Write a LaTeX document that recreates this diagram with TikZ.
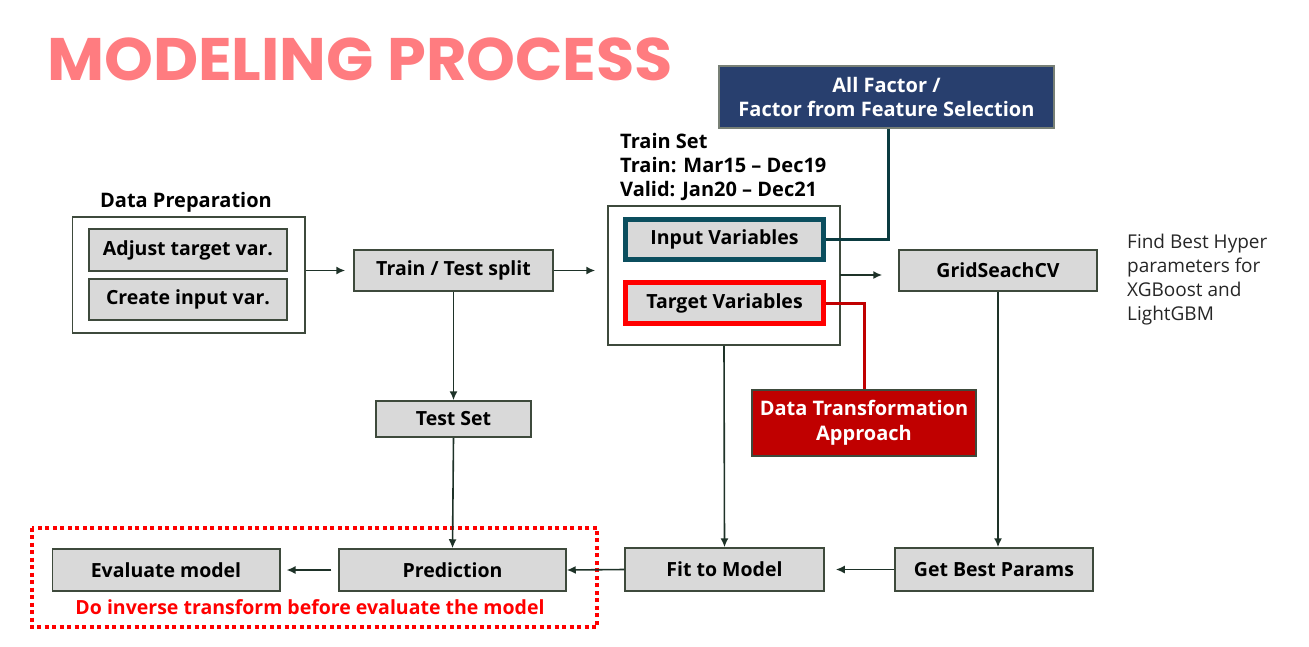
\documentclass[tikz,border=0pt]{standalone}
\usepackage{fontspec}
\setmainfont{Open Sans}
\newfontfamily\titlefont{Poppins}
\usetikzlibrary{arrows.meta,calc}
\definecolor{boxfill}{HTML}{D9D9D9}
\definecolor{boxline}{HTML}{3E4A3C}
\definecolor{arrowc}{HTML}{1E3228}
\definecolor{titlec}{HTML}{FF7C80}
\definecolor{navy}{HTML}{283F6E}
\definecolor{teal}{HTML}{0B4E5E}
\definecolor{tealline}{HTML}{0B3B40}
\definecolor{darkred}{HTML}{C00000}
\tikzset{
  gbox/.style={draw=boxline, line width=1.5pt, fill=boxfill, inner sep=0pt,
    font=\fontsize{19.5}{24}\selectfont\bfseries, text=black, align=center},
  obox/.style={draw=boxline, line width=1.5pt, fill=white, inner sep=0pt},
  lbl/.style={font=\fontsize{20}{24}\selectfont\bfseries, text=black, inner sep=0pt},
  notel/.style={anchor=base west, inner sep=0pt, text=black!85, font=\fontsize{19}{24}\selectfont},
  arr/.style={draw=arrowc, line width=1.6pt, -{Latex[length=9pt,width=8pt]}},
  plain/.style={draw=arrowc, line width=1.5pt}
}
\begin{document}
\begin{tikzpicture}[x=1pt,y=-1pt]
\useasboundingbox (0,0) rectangle (1309,646);
% title
\node[anchor=base west, inner sep=0pt, text=titlec, font=\titlefont\fontsize{60}{60}\selectfont\bfseries] (title) at (47,80) {\scalebox{1.036}[1]{MODELING PROCESS}};

% data preparation
\node[lbl, anchor=base] (dplbl) at (186,207) {Data Preparation};
\node[obox, minimum width=232.5pt, minimum height=116pt] (dpo) at (188.75,275) {};
\node[gbox, minimum width=198pt, minimum height=42pt] (adj) at (188,250) {Adjust target var.};
\node[gbox, minimum width=198pt, minimum height=41pt] (cre) at (188,299.5) {Create input var.};

% train / test split
\node[gbox, minimum width=199pt, minimum height=41pt] (tts) at (453.5,270.5) {Train / Test split};

% train set
\node[lbl, anchor=base west] (ts1) at (620,148) {Train Set};
\node[lbl, anchor=base west] (ts2) at (620,172) {Train: Mar15 -- Dec19};
\node[lbl, anchor=base west] (ts3) at (620,196) {Valid: Jan20 -- Dec21};
\node[obox, minimum width=232pt, minimum height=139pt] (tso) at (724,275.5) {};
\node[gbox, draw=teal, line width=5pt, minimum width=198pt, minimum height=40pt] (inp) at (724.5,239.5) {Input Variables};
\node[gbox, draw=red, line width=5pt, minimum width=198pt, minimum height=41pt] (tgt) at (724.5,303) {Target Variables};

% all factor
\node[gbox, fill=navy, draw=boxline!70, text=white, minimum width=335pt, minimum height=62pt, font=\fontsize{20}{24}\selectfont\bfseries] (allf) at (886.5,97) {All Factor /\\Factor from Feature Selection};

% grid search
\node[gbox, minimum width=198pt, minimum height=41pt] (grid) at (998,270.5) {GridSeachCV};
\node[notel] (n1) at (1127,248) {Find Best Hyper};
\node[notel] (n2) at (1127,272) {parameters for};
\node[notel] (n3) at (1127,296) {XGBoost and};
\node[notel] (n4) at (1127,320) {LightGBM};

% data transformation
\node[gbox, fill=darkred, text=white, minimum width=224pt, minimum height=66pt, font=\fontsize{20}{25}\selectfont\bfseries] (dta) at (864,423) {Data Transformation\\Approach};

% test set
\node[gbox, minimum width=155pt, minimum height=36pt] (test) at (453.5,419) {Test Set};

% bottom row
\node[gbox, minimum width=227.5pt, minimum height=42pt] (eval) at (166,570) {Evaluate model};
\node[gbox, minimum width=227pt, minimum height=42pt] (pred) at (452.5,570) {Prediction};
\node[gbox, minimum width=199pt, minimum height=43pt] (fit) at (724.5,569.5) {Fit to Model};
\node[gbox, minimum width=198pt, minimum height=43pt] (gbp) at (994,569.5) {Get Best Params};

% dotted red frame and note
\draw[red, line width=4pt, dash pattern=on 4pt off 3.5pt] (31.5,527.5) rectangle (597,627);
\node[anchor=base, inner sep=0pt, text=red, font=\fontsize{19.5}{22}\selectfont\bfseries] (inv) at (310,614) {Do inverse transform before evaluate the model};

% connectors
\draw[arr] (dpo.east |- tts.west) -- ($(tts.west)+(-8,0)$);
\draw[arr] (tts.east) -- ($(tso.west |- tts.east)+(-12,0)$);
\coordinate (tsoout) at (840,275);
\draw[arr] (tsoout) -- ($(grid.west |- tsoout)+(-16,0)$);
\draw[tealline, line width=3pt] (allf.south -| 888,0) |- (inp.east);
\draw[darkred, line width=3pt] (tgt.east) -| (dta.north);
\draw[arr] (tts.south) -- (test.north);
\draw[arr] (test.south) -- (pred.north);
\draw[arr] (tso.south) -- (fit.north);
\draw[arr] (grid.south) -- (grid.south |- gbp.north);
\draw[arr] (gbp.west) -- ($(fit.east)+(11,0)$);
\draw[arr] (fit.west) -- (pred.east);
\draw[arr] ($(pred.west)+(-7,0)$) -- ($(eval.east)+(6,0)$);
\end{tikzpicture}
\end{document}
